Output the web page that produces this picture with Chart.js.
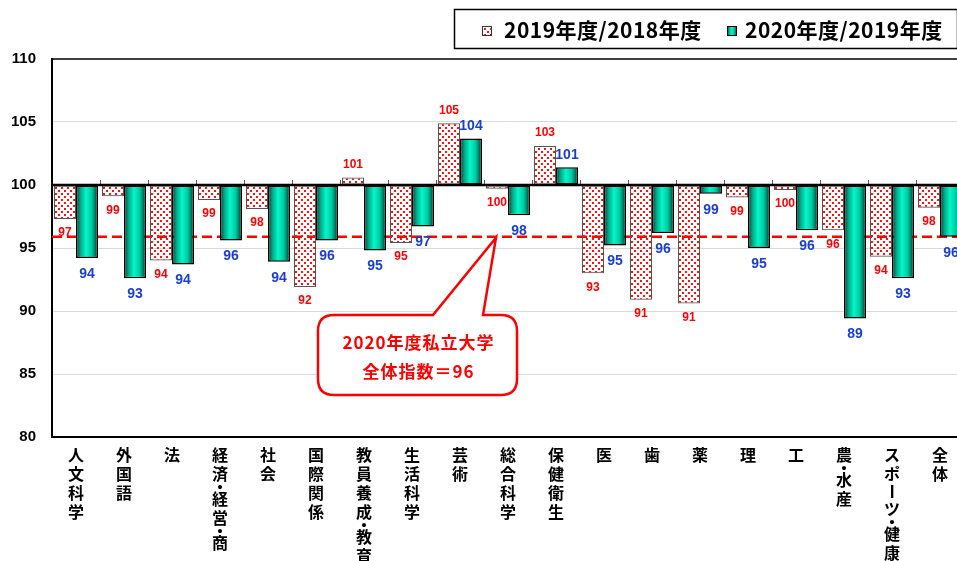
<!DOCTYPE html>
<html lang="ja">
<head>
<meta charset="UTF-8">
<title>学部系統別 志願者指数</title>
<script src="https://cdn.jsdelivr.net/npm/chart.js@4.4.1/dist/chart.umd.min.js"></script>
<style>
  html, body { margin: 0; padding: 0; background: #fff; overflow: hidden; }
  #wrap { width: 966px; height: 561px; }
</style>
</head>
<body>
<div id="wrap"><canvas id="myChart" width="966" height="561"></canvas></div>
<script>
// 学部系統
const categories = [
  "人文科学", "外国語", "法", "経済・経営・商", "社会", "国際関係",
  "教員養成・教育", "生活科学", "芸術", "総合科学", "保健衛生", "医",
  "歯", "薬", "理", "工", "農・水産", "スポーツ・健康", "全体"
];
// 2019年度/2018年度
const index2019 = [
  97.3, 99.1, 94.0, 98.8, 98.1, 91.9, 100.6, 95.4, 104.9, 99.7,
  103.1, 93.0, 90.9, 90.6, 99.0, 99.6, 96.4, 94.3, 98.2
];
// 2020年度/2019年度
const index2020 = [
  94.2, 92.6, 93.7, 95.6, 93.9, 95.6, 94.8, 96.7, 103.7, 97.6,
  101.4, 95.2, 96.2, 99.3, 95.0, 96.4, 89.4, 92.6, 95.9
];
const seriesNames = ["2019年度/2018年度", "2020年度/2019年度"];
const yMin = 80, yMax = 110, yStep = 5;
const baseValue = 100;
const overallIndex = 95.9;   // 2020年度私立大学 全体指数
const calloutLines = ["2020年度私立大学", "全体指数＝96"];

const catPct = 0.917;
const jpFont = '"Noto Sans CJK JP", "Noto Sans", sans-serif';

// red dot pattern for the 2019 bars
function makeDots() {
  const c = document.createElement("canvas");
  c.width = 6; c.height = 6;
  const g = c.getContext("2d");
  g.fillStyle = "#ff1010";
  g.fillRect(1, 1, 2, 2);
  g.fillRect(4, 4, 2, 2);
  return c;
}
const ctx = document.getElementById("myChart").getContext("2d");
const dotPattern = ctx.createPattern(makeDots(), "repeat");

function greenGradient(c, x0, w) {
  const g = c.createLinearGradient(x0, 0, x0 + w, 0);
  g.addColorStop(0, "#013a2c");
  g.addColorStop(0.2, "#00a884");
  g.addColorStop(0.45, "#00f7c9");
  g.addColorStop(0.72, "#00c9a1");
  g.addColorStop(1, "#00362a");
  return g;
}

function greenFill(context) {
  const chart = context.chart;
  const xs = chart.scales.x;
  if (!xs || context.type !== "data") return "#00e0b0";
  const w = (xs.width / categories.length) * catPct / 2;
  const c = xs.getPixelForValue(context.dataIndex);
  if (!isFinite(c) || !isFinite(w) || w <= 0) return "#00e0b0";
  return greenGradient(chart.ctx, c, w);
}

// vertical category labels (one character per row)
function drawVerticalLabels(chart) {
  const { ctx: c, scales: { x } } = chart;
  c.save();
  c.font = "bold 16px " + jpFont;
  c.fillStyle = "#000";
  c.textAlign = "center";
  c.textBaseline = "middle";
  categories.forEach((label, i) => {
    const cx = x.getPixelForValue(i);
    let y = 455;
    let prevH = null;
    Array.from(label).forEach(ch => {
      const h = ch === "・" ? 6 : (ch === "ー" ? 16 : 19);
      if (prevH !== null) y += (prevH + h) / 2;
      if (ch === "ー") {
        c.save();
        c.translate(cx, y);
        c.rotate(Math.PI / 2);
        c.fillText(ch, 0, 0);
        c.restore();
      } else {
        c.fillText(ch, cx, y);
      }
      prevH = h;
    });
  });
  c.restore();
}

const decor = {
  id: "decor",
  beforeDatasetsDraw(chart) {
    const { ctx: c, chartArea: a, scales: { y } } = chart;
    const yy = y.getPixelForValue(overallIndex);
    c.save();
    c.strokeStyle = "#ff0000";
    c.lineWidth = 2.5;
    c.setLineDash([10, 5]);
    c.beginPath();
    c.moveTo(a.left, yy);
    c.lineTo(a.right, yy);
    c.stroke();
    c.restore();
  },
  afterDatasetsDraw(chart) {
    const { ctx: c, chartArea: a, scales: { x, y } } = chart;
    const y100 = y.getPixelForValue(baseValue);
    const cw = x.width / categories.length;
    c.save();
    // category boundary ticks on the 100 line
    c.strokeStyle = "#555";
    c.lineWidth = 1;
    for (let k = 1; k <= categories.length; k++) {
      const px = Math.round(a.left + k * cw) + 0.5;
      c.beginPath();
      c.moveTo(px, y100 - 5);
      c.lineTo(px, y100);
      c.stroke();
    }
    // 100 line
    c.strokeStyle = "#000";
    c.lineWidth = 2.5;
    c.beginPath();
    c.moveTo(a.left, y100);
    c.lineTo(a.right, y100);
    c.stroke();

    // value labels
    c.textAlign = "center";
    c.textBaseline = "middle";
    chart.data.datasets.forEach((ds, di) => {
      const meta = chart.getDatasetMeta(di);
      c.font = di === 0 ? "bold 12px Arial, 'Liberation Sans'" : "bold 14px Arial, 'Liberation Sans'";
      c.fillStyle = di === 0 ? "#ff0000" : "#1a3fcc";
      meta.data.forEach((bar, i) => {
        const v = ds.data[i];
        const off = di === 0 ? 14 : 16;
        const ty = v < baseValue ? bar.y + off : bar.y - (di === 0 ? 13 : 12);
        c.fillText(String(Math.round(v)), bar.x, ty);
      });
    });

    // callout
    const tipX = x.getPixelForValue(9) - 12;
    const tipY = y.getPixelForValue(overallIndex) + 1;
    const bx0 = 318, by0 = 315, bx1 = 517, by1 = 395, r = 16;
    const p0 = 433, p1 = 483;
    c.beginPath();
    c.moveTo(bx0 + r, by0);
    c.lineTo(p0, by0);
    c.lineTo(tipX, tipY);
    c.lineTo(p1, by0);
    c.lineTo(bx1 - r, by0);
    c.quadraticCurveTo(bx1, by0, bx1, by0 + r);
    c.lineTo(bx1, by1 - r);
    c.quadraticCurveTo(bx1, by1, bx1 - r, by1);
    c.lineTo(bx0 + r, by1);
    c.quadraticCurveTo(bx0, by1, bx0, by1 - r);
    c.lineTo(bx0, by0 + r);
    c.quadraticCurveTo(bx0, by0, bx0 + r, by0);
    c.closePath();
    c.fillStyle = "#fff";
    c.fill();
    c.strokeStyle = "#ff0000";
    c.lineWidth = 2.5;
    c.stroke();
    c.fillStyle = "#ff0000";
    c.font = "bold 17px " + jpFont;
    c.letterSpacing = "1px";
    c.fillText(calloutLines[0], (bx0 + bx1) / 2 + 1, 343);
    c.fillText(calloutLines[1], (bx0 + bx1) / 2 + 1, 372);
    c.restore();
  },
  afterDraw(chart) {
    const { ctx: c, chartArea: a } = chart;
    drawVerticalLabels(chart);
    c.save();
    // top frame line
    c.strokeStyle = "#000";
    c.lineWidth = 1.5;
    c.beginPath();
    c.moveTo(a.left, a.top);
    c.lineTo(a.right, a.top);
    c.stroke();

    // legend box
    c.fillStyle = "#fff";
    c.fillRect(454, 9, 504, 40);
    c.lineWidth = 1.5;
    c.strokeRect(454.5, 9.5, 503, 39);
    c.font = "bold 21px " + jpFont;
    c.letterSpacing = "0.5px";
    c.textBaseline = "middle";
    c.textAlign = "left";
    // swatch 1
    c.fillStyle = dotPattern;
    c.fillRect(482, 26, 10, 10);
    c.lineWidth = 1;
    c.strokeStyle = "#333";
    c.strokeRect(482.5, 26.5, 9, 9);
    c.fillStyle = "#000";
    c.fillText(seriesNames[0], 504, 30);
    // swatch 2
    c.fillStyle = greenGradient(c, 727, 10);
    c.fillRect(727, 26, 10, 10);
    c.strokeStyle = "#000";
    c.strokeRect(727.5, 26.5, 9, 9);
    c.fillStyle = "#000";
    c.fillText(seriesNames[1], 745, 30);
    c.restore();
  }
};

new Chart(ctx, {
  type: "bar",
  data: {
    labels: categories,
    datasets: [
      {
        label: seriesNames[0],
        data: index2019,
        base: baseValue,
        backgroundColor: dotPattern,
        borderColor: "#555",
        borderWidth: 1,
        borderSkipped: false,
        categoryPercentage: catPct,
        barPercentage: 1
      },
      {
        label: seriesNames[1],
        data: index2020,
        base: baseValue,
        backgroundColor: greenFill,
        borderColor: "#000",
        borderWidth: 1.5,
        borderSkipped: false,
        categoryPercentage: catPct,
        barPercentage: 1
      }
    ]
  },
  options: {
    responsive: false,
    animation: false,
    layout: { padding: { top: 59, right: 2, left: 0, bottom: 0 } },
    plugins: {
      legend: { display: false },
      tooltip: { enabled: false }
    },
    scales: {
      x: {
        grid: { display: false },
        border: { display: true, color: "#000", width: 2 },
        afterFit(s) { s.height = 124; },
        ticks: { display: false }
      },
      y: {
        min: yMin,
        max: yMax,
        afterFit(s) { s.width = 52; },
        grid: {
          color: ctx => (ctx.tick && (ctx.tick.value === baseValue || ctx.tick.value === yMax || ctx.tick.value === yMin)) ? "rgba(0,0,0,0)" : "#d9d9d9",
          lineWidth: 1,
          drawTicks: false
        },
        border: { display: true, color: "#000", width: 2 },
        ticks: {
          stepSize: yStep,
          padding: 16,
          color: "#000",
          font: { family: "Arial, 'Liberation Sans'", size: 15, weight: "bold" }
        }
      }
    }
  },
  plugins: [decor]
});
</script>
</body>
</html>
